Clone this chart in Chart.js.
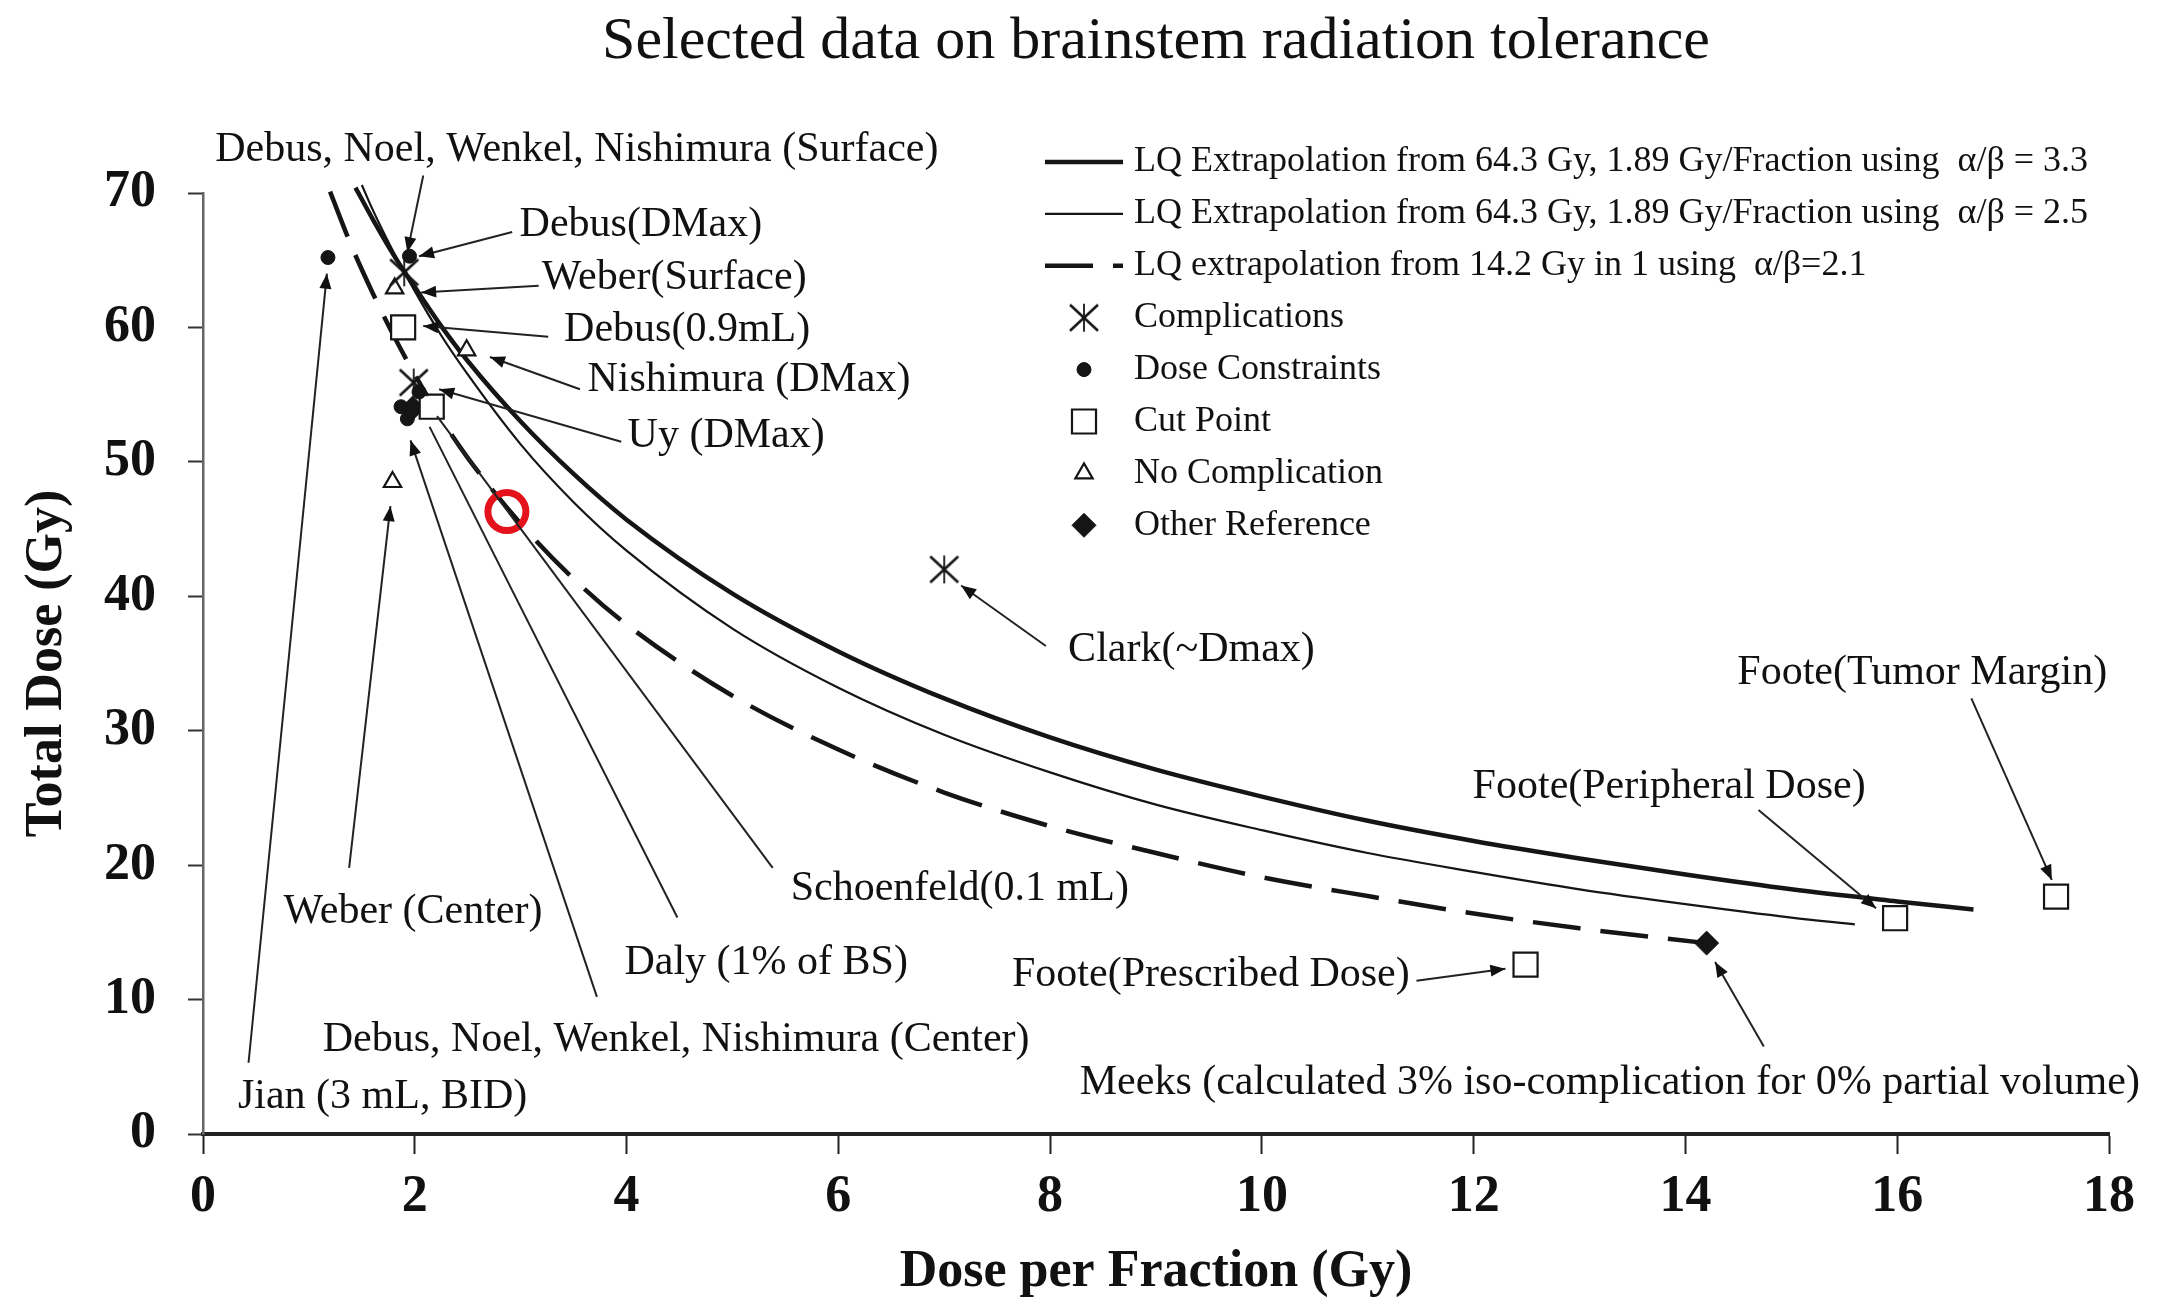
<!DOCTYPE html>
<html>
<head>
<meta charset="utf-8">
<script src="https://cdn.jsdelivr.net/npm/chart.js@4.4.1/dist/chart.umd.min.js"></script>
<style>
  html, body { margin: 0; padding: 0; background: #fff; overflow: hidden; }
  canvas { display: block; }
</style>
</head>
<body>
<canvas id="toleranceChart" width="2165" height="1311"></canvas>
<script>
const SERIF = '"Liberation Serif", "Times New Roman", serif';
const INK = '#151515';

// LQ curves (dose per fraction, total dose)
const lq33X = [1.44, 1.6, 1.8, 2, 2.25, 2.5, 3, 3.5, 4, 5, 6, 7, 8, 9, 10, 11, 12, 13, 14, 15, 16, 16.72];
const lq33Y = [70.4, 68.1, 65.4, 63.0, 60.1, 57.5, 53.0, 49.1, 45.7, 40.2, 35.9, 32.4, 29.5, 27.1, 25.1, 23.3, 21.8, 20.5, 19.3, 18.2, 17.3, 16.7];
const lq25X = [1.5, 1.6, 1.8, 2, 2.25, 2.5, 3, 3.5, 4, 5, 6, 7, 8, 9, 10, 11, 12, 13, 14, 15, 15.6];
const lq25Y = [70.6, 68.8, 65.6, 62.7, 59.4, 56.5, 51.3, 47.0, 43.4, 37.6, 33.2, 29.7, 26.9, 24.5, 22.6, 20.9, 19.5, 18.2, 17.1, 16.1, 15.6];
const lq21X = [1.2, 1.4, 1.6, 1.8, 2, 2.25, 2.5, 3, 3.5, 4, 5, 6, 7, 8, 9, 10, 11, 12, 13, 14.2];
const lq21Y = [70.1, 66.1, 62.6, 59.4, 56.5, 53.2, 50.3, 45.4, 41.3, 37.9, 32.6, 28.6, 25.4, 22.9, 20.9, 19.1, 17.7, 16.4, 15.3, 14.2];

// reported points
const complicationsX = [7.0, 1.99, 1.9];
const complicationsY = [42.0, 55.9, 64.1];
const constraintsX = [1.18, 1.95, 1.87, 1.93, 2.04];
const constraintsY = [65.2, 65.3, 54.1, 53.2, 55.2];
const cutPointX = [1.89, 2.16, 12.49, 15.98, 17.5];
const cutPointY = [60.0, 54.1, 12.6, 16.05, 17.66];
const noComplicationX = [1.81, 2.49, 1.79];
const noComplicationY = [62.9, 58.3, 48.5];
const otherRefX = [1.98, 14.2];
const otherRefY = [54.0, 14.2];
const circledX = [2.87];
const circledY = [46.3];

// callouts: label, where the text sits, arrow from -> to
const noteText = [
  'Debus, Noel, Wenkel, Nishimura (Surface)', 'Debus(DMax)', 'Weber(Surface)', 'Debus(0.9mL)',
  'Nishimura (DMax)', 'Uy (DMax)', 'Clark(~Dmax)', 'Foote(Tumor Margin)', 'Foote(Peripheral Dose)',
  'Foote(Prescribed Dose)', 'Meeks (calculated 3% iso-complication for 0% partial volume)',
  'Schoenfeld(0.1 mL)', 'Daly (1% of BS)', 'Debus, Noel, Wenkel, Nishimura (Center)',
  'Weber (Center)', 'Jian (3 mL, BID)'
];
const noteAt = [[3.53, 73.2], [2.99, 67.6], [3.20, 63.7], [3.41, 59.8], [3.63, 56.1], [4.01, 51.9],
  [8.17, 36.0], [14.49, 34.3], [11.99, 25.8], [7.64, 11.8], [8.28, 3.8], [5.55, 18.2], [3.98, 12.7],
  [1.13, 7.0], [0.76, 16.5], [0.33, 2.75]];
const noteAlign = ['center', 'left', 'left', 'left', 'left', 'left', 'left', 'left', 'left', 'left',
  'left', 'left', 'left', 'left', 'left', 'left'];
const arrowFrom = [[2.08, 71.3], [2.92, 67.1], [3.17, 63.1], [3.26, 59.3], [3.56, 55.4], [3.95, 51.5],
  [7.96, 36.3], [16.70, 32.4], [14.69, 24.1], [11.46, 11.4], [14.74, 6.5], [5.38, 19.8], [4.48, 16.1],
  [3.72, 10.2], [1.38, 19.8], [0.43, 5.3]];
const arrowTo = [[1.93, 65.6], [2.04, 65.3], [2.06, 62.6], [2.08, 60.1], [2.71, 57.8], [2.23, 55.4],
  [7.16, 40.8], [17.46, 18.9], [15.80, 16.8], [12.30, 12.3], [14.28, 12.8], [2.21, 53.4], [2.14, 52.6],
  [1.96, 51.6], [1.77, 46.7], [1.17, 64.0]];
const arrowHeadOn = [true, true, true, true, true, true, true, true, true, true, true, false, false,
  true, true, true];

const asterisk = (() => {
  const c = document.createElement('canvas');
  c.width = 34; c.height = 32;
  const g = c.getContext('2d');
  g.strokeStyle = INK;
  g.lineWidth = 2.6;
  g.beginPath();
  g.moveTo(3, 3); g.lineTo(31, 29);
  g.moveTo(31, 3); g.lineTo(3, 29);
  g.stroke();
  g.lineWidth = 1.8;
  g.beginPath();
  g.moveTo(17, 2); g.lineTo(17, 30);
  g.stroke();
  return c;
})();

const pairs = (xs, ys) => xs.map((x, i) => ({x: x, y: ys[i]}));

const curve = (label, xs, ys, width, dash) => ({
  label, data: pairs(xs, ys), showLine: true, borderColor: INK, borderWidth: width,
  borderDash: dash, pointRadius: 0, pointHoverRadius: 0, cubicInterpolationMode: 'monotone',
  clip: false, order: 2, legendKind: 'line'
});

const marks = (label, xs, ys, style, radius, fill, border) => ({
  label, data: pairs(xs, ys), showLine: false, pointStyle: style, pointRadius: radius,
  pointHoverRadius: radius, pointBackgroundColor: fill, pointBorderColor: INK,
  pointBorderWidth: border, clip: false, order: 1, legendKind: 'point'
});

const datasets = [
  curve('LQ Extrapolation from 64.3 Gy, 1.89 Gy/Fraction using  \u03b1/\u03b2 = 3.3', lq33X, lq33Y, 4.5, []),
  curve('LQ Extrapolation from 64.3 Gy, 1.89 Gy/Fraction using  \u03b1/\u03b2 = 2.5', lq25X, lq25Y, 2.2, []),
  curve('LQ extrapolation from 14.2 Gy in 1 using  \u03b1/\u03b2=2.1', lq21X, lq21Y, 4.5, [48, 20]),
  marks('Complications', complicationsX, complicationsY, asterisk, 16, INK, 0),
  marks('Dose Constraints', constraintsX, constraintsY, 'circle', 7, INK, 1),
  marks('Cut Point', cutPointX, cutPointY, 'rect', 17, '#fff', 2.2),
  marks('No Complication', noComplicationX, noComplicationY, 'triangle', 10, '#fff', 2.2),
  marks('Other Reference', otherRefX, otherRefY, 'rectRot', 12, INK, 1),
  {
    label: 'circled', data: pairs(circledX, circledY), showLine: false, pointStyle: 'circle',
    pointRadius: 19, pointHoverRadius: 19, pointBackgroundColor: 'rgba(0,0,0,0)',
    pointBorderColor: '#e3121b', pointBorderWidth: 7, clip: false, order: 0
  }
];

const calloutPlugin = {
  id: 'callouts',
  afterDraw(chart) {
    const {ctx, scales: {x, y}} = chart;
    ctx.save();
    ctx.strokeStyle = '#222';
    ctx.fillStyle = '#111';
    ctx.lineWidth = 2;
    noteText.forEach((text, i) => {
      const x1 = x.getPixelForValue(arrowFrom[i][0]), y1 = y.getPixelForValue(arrowFrom[i][1]);
      const x2 = x.getPixelForValue(arrowTo[i][0]), y2 = y.getPixelForValue(arrowTo[i][1]);
      ctx.beginPath();
      ctx.moveTo(x1, y1);
      ctx.lineTo(x2, y2);
      ctx.stroke();
      if (arrowHeadOn[i]) {
        const a = Math.atan2(y2 - y1, x2 - x1), len = 15, half = 6;
        ctx.beginPath();
        ctx.moveTo(x2, y2);
        ctx.lineTo(x2 - len * Math.cos(a) + half * Math.sin(a), y2 - len * Math.sin(a) - half * Math.cos(a));
        ctx.lineTo(x2 - len * Math.cos(a) - half * Math.sin(a), y2 - len * Math.sin(a) + half * Math.cos(a));
        ctx.closePath();
        ctx.fill();
      }
      ctx.font = '42px ' + SERIF;
      ctx.textAlign = noteAlign[i];
      ctx.textBaseline = 'middle';
      ctx.fillText(text, x.getPixelForValue(noteAt[i][0]), y.getPixelForValue(noteAt[i][1]));
    });
    ctx.restore();
  }
};

// legend drawn in the upper right of the plot like the original
const legendPlugin = {
  id: 'insideLegend',
  afterDraw(chart) {
    const ctx = chart.ctx;
    const left = 1045, right = 1123, textX = 1134, top = 162, step = 51.9;
    ctx.save();
    chart.data.datasets.filter(ds => ds.legendKind).forEach((ds, i) => {
      const yy = top + i * step;
      if (ds.legendKind === 'line') {
        ctx.strokeStyle = ds.borderColor;
        ctx.lineWidth = ds.borderWidth;
        ctx.setLineDash(ds.borderDash);
        ctx.beginPath();
        ctx.moveTo(left, yy);
        ctx.lineTo(right, yy);
        ctx.stroke();
        ctx.setLineDash([]);
      } else {
        ctx.fillStyle = ds.pointBackgroundColor;
        ctx.strokeStyle = ds.pointBorderColor;
        ctx.lineWidth = ds.pointBorderWidth;
        Chart.helpers.drawPoint(ctx, {
          pointStyle: ds.pointStyle, radius: ds.pointRadius, borderWidth: ds.pointBorderWidth, rotation: 0
        }, (left + right) / 2, yy);
      }
      ctx.fillStyle = '#111';
      ctx.font = '36px ' + SERIF;
      ctx.textAlign = 'left';
      ctx.textBaseline = 'middle';
      ctx.fillText(ds.label, textX, yy);
    });
    ctx.restore();
  }
};

new Chart('toleranceChart', {
  type: 'scatter',
  data: {datasets},
  options: {
    responsive: false,
    animation: false,
    devicePixelRatio: 1,
    events: [],
    layout: {padding: {left: 0, right: 56, top: 0, bottom: 0}},
    plugins: {
      legend: {display: false},
      tooltip: {enabled: false},
      title: {
        display: true,
        text: 'Selected data on brainstem radiation tolerance',
        fullSize: false,
        color: '#111',
        font: {family: SERIF, size: 60, weight: 'normal'},
        padding: {top: 6, bottom: 115}
      }
    },
    scales: {
      x: {
        type: 'linear', min: 0, max: 18,
        ticks: {stepSize: 2, color: '#111', padding: 12, font: {family: SERIF, size: 52, weight: 'bold'}},
        grid: {drawOnChartArea: false, drawTicks: true, tickLength: 20, tickWidth: 2, tickColor: '#222'},
        border: {display: true, color: '#222', width: 4},
        title: {display: true, text: 'Dose per Fraction (Gy)', color: '#111',
          font: {family: SERIF, size: 52, weight: 'bold'}, padding: {top: 0, bottom: 7}},
        afterFit: s => { s.height = 177; }
      },
      y: {
        type: 'linear', min: 0, max: 70,
        ticks: {stepSize: 10, color: '#111', padding: 32, font: {family: SERIF, size: 52, weight: 'bold'}},
        grid: {drawOnChartArea: false, drawTicks: true, tickLength: 15, tickWidth: 2, tickColor: '#333'},
        border: {display: true, color: '#666', width: 2.5},
        title: {display: true, text: 'Total Dose (Gy)', color: '#111',
          font: {family: SERIF, size: 52, weight: 'bold'}, padding: {top: 16, bottom: 0}},
        afterFit: s => { s.width = 203; }
      }
    }
  },
  plugins: [calloutPlugin, legendPlugin]
});
</script>
</body>
</html>
